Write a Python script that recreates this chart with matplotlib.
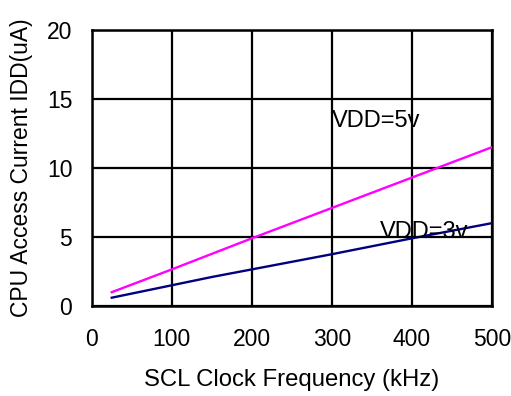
import matplotlib
matplotlib.use("Agg")
import matplotlib.pyplot as plt

plt.rcParams['font.family'] = ['Liberation Sans', 'DejaVu Sans']

# Data
freq_5v = [25, 100, 200, 300, 400, 500]
idd_5v = [1.0, 2.65, 4.9, 7.1, 9.3, 11.5]

freq_3v = [25, 50, 100, 150, 200, 300, 400, 500]
idd_3v = [0.6, 0.9, 1.5, 2.1, 2.65, 3.75, 4.9, 6.0]

xticks = [0, 100, 200, 300, 400, 500]
yticks = [0, 5, 10, 15, 20]

fig = plt.figure(figsize=(5.11, 3.96), dpi=100)
ax = fig.add_axes([0.1795, 0.2273, 0.7828, 0.697])

ax.plot(freq_5v, idd_5v, color='#FF00FF', lw=1.7, zorder=3)
ax.plot(freq_3v, idd_3v, color='#000080', lw=1.7, zorder=3)

ax.set_xlim(0, 500)
ax.set_ylim(0, 20)
ax.set_xticks(xticks)
ax.set_yticks(yticks)
ax.tick_params(axis='both', length=0, labelsize=16.5)
ax.tick_params(axis='x', pad=16)
ax.tick_params(axis='y', pad=14)

ax.grid(True, color='black', lw=1.6)
ax.set_axisbelow(True)
for s in ax.spines.values():
    s.set_color('black')
    s.set_linewidth(1.8)

ax.text(300, 13.4, 'VDD=5v', fontsize=17, va='center', ha='left', zorder=4)
ax.text(360, 5.35, 'VDD=3v', fontsize=17, va='center', ha='left', zorder=4)

ax.set_xlabel('SCL Clock Frequency (kHz)', fontsize=17.2, labelpad=13)
ax.set_ylabel('CPU Access Current IDD(uA)', fontsize=16.5, labelpad=10)

fig.savefig('out.png', dpi=100)
